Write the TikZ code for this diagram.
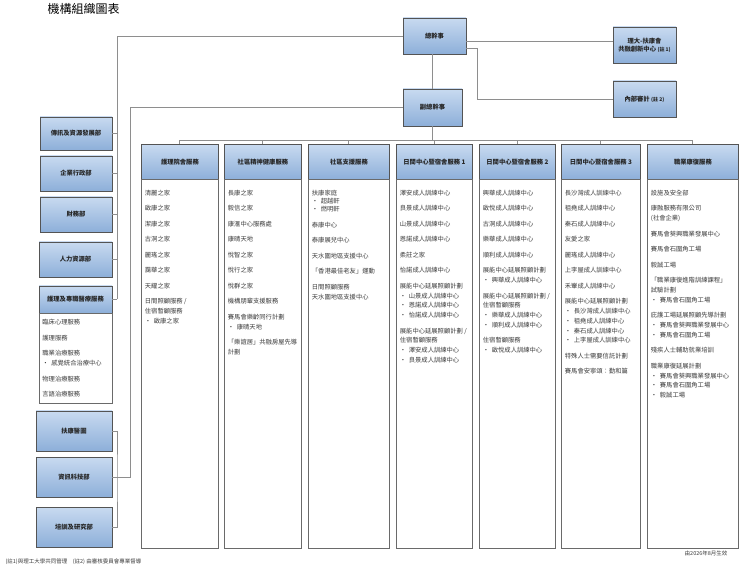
\documentclass[tikz,border=0pt]{standalone}
\usepackage{fontspec}
\setmainfont{Noto Sans CJK TC}
\usepackage{xcolor}
\usepackage{tikz}
\definecolor{hdrtop}{HTML}{C8DAF0}
\definecolor{hdrbot}{HTML}{8DAFD9}
\definecolor{hdrline}{HTML}{545454}
\definecolor{bodyline}{HTML}{6A6A6A}
\definecolor{linegray}{HTML}{8E8E8E}
\definecolor{textgray}{HTML}{3C3C3C}
\newcommand{\itm}[1]{\makebox[9pt][l]{\textbullet}#1}
\newcommand{\nx}{\\[5.7pt]}

\begin{document}
\begin{tikzpicture}[x=1pt,y=-1pt]
            \tikzset{
                hdr/.style={draw=hdrline, line width=0.8pt, top color=hdrtop, bottom color=hdrbot, shape = rectangle, align=center, inner sep=1pt, font=\fontsize{6.3}{8}\selectfont\bfseries, text=black!85},
                colhead/.style={hdr, anchor=north west, minimum height=35pt},
                body/.style={draw=bodyline, line width=0.8pt, fill=white, anchor=north west, inner xsep=3.5pt, inner ysep=0pt, font=\fontsize{6.3}{9.8}\selectfont, text=textgray},
                link/.style={draw=linegray, line width=0.9pt}
            }
            \useasboundingbox (0,0) rectangle (740,572);
            \node[anchor=west, font=\fontsize{12}{14}\selectfont] (title) at (44,9) {機構組織圖表};

            % top management
            \node[hdr, minimum width=63pt, minimum height=36pt] (ceo) at (434.5,36) {總幹事};
            \node[hdr, minimum width=59pt, minimum height=37pt] (dceo) at (432.5,107.5) {副總幹事};
            \node[hdr, minimum width=63pt, minimum height=36pt] (polyu) at (644.5,45) {理大-扶康會\\共融創新中心 {\fontsize{5}{6}\selectfont(註 1)}};
            \node[hdr, minimum width=63pt, minimum height=36pt] (audit) at (644.5,99) {內部審計 {\fontsize{5}{6}\selectfont(註 2)}};

            % departments on the left
            \node[hdr, minimum width=72pt, minimum height=33pt] (comm) at (76,133.5) {傳訊及資源發展部};
            \node[hdr, minimum width=72pt, minimum height=35pt] (admin) at (76,173.5) {企業行政部};
            \node[hdr, minimum width=72pt, minimum height=35pt] (fin) at (76,214.5) {財務部};
            \node[hdr, minimum width=73pt, minimum height=35pt] (hr) at (75.5,259.5) {人力資源部};
            \node[hdr, minimum width=73pt, minimum height=27pt] (allied) at (75.5,299.5) {護理及專職醫療服務};
            \node[body, inner xsep=3pt] (alliedb) at (39,313) {\begin{minipage}[t][90pt][t]{67pt}\vspace*{6pt}%
                臨床心理服務\nx 護理服務\nx 職業治療服務\\ \itm{感覺統合治療中心}\nx 物理治療服務\nx 言語治療服務\end{minipage}};
            \node[hdr, minimum width=76pt, minimum height=40pt] (med) at (74,431) {扶康醫圖};
            \node[hdr, minimum width=76pt, minimum height=40pt] (it) at (74,477) {資訊科技部};
            \node[hdr, minimum width=76pt, minimum height=40pt] (trn) at (74,527) {培訓及研究部};

            % service columns
            \node[colhead, minimum width=77pt] (h1) at (141,144) {護理院舍服務};
            \node[body] (b1) at (141,179) {\begin{minipage}[t][369pt][t]{70pt}\vspace*{10.5pt}%
                清麗之家\nx 啟康之家\nx 潔康之家\nx 古洞之家\nx 麗瑤之家\nx 靄華之家\nx 天耀之家\nx 日間照顧服務 /\\ 住宿暫顧服務\\ \itm{啟康之家}\end{minipage}};

            \node[colhead, minimum width=77pt] (h2) at (224,144) {社區精神健康服務};
            \node[body] (b2) at (224,179) {\begin{minipage}[t][369pt][t]{70pt}\vspace*{10.5pt}%
                長康之家\nx 毅信之家\nx 康滙中心服務處\nx 康晴天地\nx 悅智之家\nx 悅行之家\nx 悅群之家\nx 機構朋輩支援服務\nx 賽馬會樂齡同行計劃\\ \itm{康晴天地}\nx 「樂誼居」共融房屋先導\\ 計劃\end{minipage}};

            \node[colhead, minimum width=81pt] (h3) at (308,144) {社區支援服務};
            \node[body] (b3) at (308,179) {\begin{minipage}[t][369pt][t]{74pt}\vspace*{10.5pt}%
                扶康家庭\\[-1.5pt] \itm{超越軒}\\[-1.5pt] \itm{燃明軒}\nx 泰康中心\nx 泰康展兒中心\nx 天水圍地區支援中心\nx 「香港最佳老友」運動\nx 日間照顧服務\\ 天水圍地區支援中心\end{minipage}};

            \node[colhead, minimum width=76pt] (h4) at (396,144) {日間中心暨宿舍服務 1};
            \node[body] (b4) at (396,179) {\begin{minipage}[t][369pt][t]{69pt}\vspace*{10.5pt}%
                澤安成人訓練中心\nx 良景成人訓練中心\nx 山景成人訓練中心\nx 恩諾成人訓練中心\nx 柔莊之家\nx 怡諾成人訓練中心\nx 展能中心延展照顧計劃\\ \itm{山景成人訓練中心}\\ \itm{恩諾成人訓練中心}\\ \itm{怡諾成人訓練中心}\nx 展能中心延展照顧計劃 /\\ 住宿暫顧服務\\ \itm{澤安成人訓練中心}\\ \itm{良景成人訓練中心}\end{minipage}};

            \node[colhead, minimum width=76pt] (h5) at (479,144) {日間中心暨宿舍服務 2};
            \node[body] (b5) at (479,179) {\begin{minipage}[t][369pt][t]{69pt}\vspace*{10.5pt}%
                興華成人訓練中心\nx 啟悅成人訓練中心\nx 古洞成人訓練中心\nx 樂華成人訓練中心\nx 順利成人訓練中心\nx 展能中心延展照顧計劃\\ \itm{興華成人訓練中心}\nx 展能中心延展照顧計劃 /\\ 住宿暫顧服務\\ \itm{樂華成人訓練中心}\\ \itm{順利成人訓練中心}\nx 住宿暫顧服務\\ \itm{啟悅成人訓練中心}\end{minipage}};

            \node[colhead, minimum width=79pt] (h6) at (561,144) {日間中心暨宿舍服務 3};
            \node[body] (b6) at (561,179) {\begin{minipage}[t][369pt][t]{72pt}\vspace*{10.5pt}%
                長沙灣成人訓練中心\nx 祖堯成人訓練中心\nx 秦石成人訓練中心\nx 友愛之家\nx 麗瑤成人訓練中心\nx 上李屋成人訓練中心\nx 禾輋成人訓練中心\nx 展能中心延展照顧計劃\\ \itm{長沙灣成人訓練中心}\\ \itm{祖堯成人訓練中心}\\ \itm{秦石成人訓練中心}\\ \itm{上李屋成人訓練中心}\nx 特殊人士需要信託計劃\nx 賽馬會安寧頌：勤和篇\end{minipage}};

            \node[colhead, minimum width=91pt] (h7) at (647,144) {職業康復服務};
            \node[body] (b7) at (647,179) {\begin{minipage}[t][369pt][t]{84pt}\vspace*{10.5pt}%
                設施及安全部\nx 康融服務有限公司\\ (社會企業)\nx 賽馬會葵興職業發展中心\nx 賽馬會石圍角工場\nx 毅誠工場\nx 「職業康復進階訓練課程」\\ 試驗計劃\\ \itm{賽馬會石圍角工場}\nx 庇護工場延展照顧先導計劃\\ \itm{賽馬會葵興職業發展中心}\\ \itm{賽馬會石圍角工場}\nx 殘疾人士輔助就業培訓\nx 職業康復延展計劃\\ \itm{賽馬會葵興職業發展中心}\\ \itm{賽馬會石圍角工場}\\ \itm{毅誠工場}\end{minipage}};

            % connectors
            \coordinate (spineL) at (117,299.5);
            \coordinate (spineR) at (130,477);
            \coordinate (brk) at (117,477);
            \coordinate (bus) at (432.5,140);
            \coordinate (auditbend) at (477,48);
            \path[link] (ceo.west) -| (spineL);
            \foreach \d in {comm, admin, fin, hr, allied}
                \path[link] (\d.east) -- (\d.east -| spineL);
            \path[link] (dceo.west) -| (spineR) -- (it.east);
            \path[link] (med.east) -| (brk) |- (trn.east);
            \path[link] (ceo.south -| dceo.north) -- (dceo.north);
            \path[link] ([yshift=-5pt]ceo.east) -- ([yshift=-5pt]ceo.east -| polyu.west);
            \path[link] (ceo.east |- auditbend) -- (auditbend) |- (audit.west);
            \path[link] (dceo.south) -- (bus);
            \foreach \i in {1,...,7}
                \path[link] (h\i.north) |- (bus);

            % notes
            \node[anchor=east, font=\fontsize{5.5}{6}\selectfont, text=textgray] (valid) at (731,553) {由2026年8月生效};
            \node[anchor=west, font=\fontsize{5.5}{6}\selectfont, text=textgray] (notes) at (2,562) {(註1)與理工大學共同管理\quad (註2) 由審核委員會專業督導};
        \end{tikzpicture}
\end{document}
